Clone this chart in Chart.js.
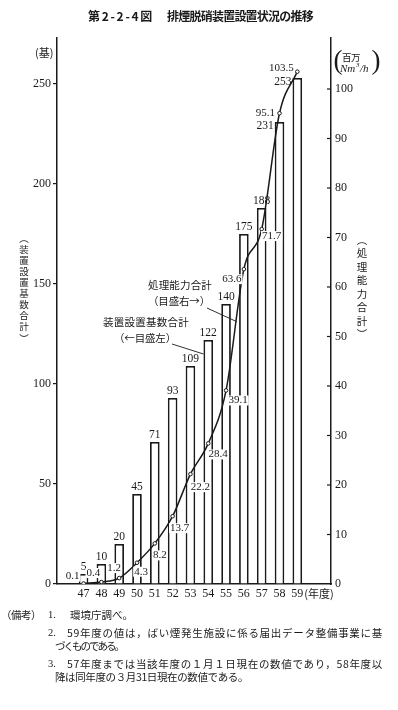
<!DOCTYPE html>
<html>
<head>
<meta charset="utf-8">
<script src="https://cdn.jsdelivr.net/npm/chart.js@4.4.1/dist/chart.umd.min.js"></script>
<style>
  html, body { margin: 0; padding: 0; background: #fff; }
  canvas { display: block; }
</style>
</head>
<body>
<canvas id="chart" width="398" height="710" style="width:398px;height:710px"></canvas>
<script>
// 年度（昭和）
const years = [47, 48, 49, 50, 51, 52, 53, 54, 55, 56, 57, 58, 59];
// 装置設置基数合計（基）
const unitCounts = [5, 10, 20, 45, 71, 93, 109, 122, 140, 175, 188, 231, 253];
// 処理能力合計（百万Nm3/h）
const capacity = [0.1, 0.4, 1.2, 4.3, 8.2, 13.7, 22.2, 28.4, 39.1, 63.6, 71.7, 95.1, 103.5];
const leftTicks = [0, 50, 100, 150, 200, 250];
const rightTicks = [0, 10, 20, 30, 40, 50, 60, 70, 80, 90, 100];

const titleNo = "第2-2-4図";
const titleText = "排煙脱硝装置設置状況の推移";
const noteHead = "（備考）";
const notes = [
  ["1.", "環境庁調べ。"],
  ["2.", "59年度の値は，ばい煙発生施設に係る届出データ整備事業に基"],
  ["", "づくものである。"],
  ["3.", "57年度までは当該年度の１月１日現在の数値であり，58年度以"],
  ["", "降は同年度の３月31日現在の数値である。"],
];

// 数値ラベルの置き方（データではなく見た目の指定）
const barLabelSide = ["top", "top", "top", "top", "top", "top", "top", "top", "top", "top", "top", "left", "left"];
const lineLabelOffset = [
  [-11, -7], [-8, -9], [-5, -10], [4, 9], [5, 12], [7, 12], [10, 13],
  [10, 11], [12, 10], [-12, 10], [10, 7], [-14, 0], [-16, -4],
];

const SERIF = '"Liberation Serif", "DejaVu Serif", serif';
const JP = '"Noto Sans CJK JP", "Noto Sans", sans-serif';
const INK = "#1a1a1a";

// 文字列を指定幅に収めて描く
function drawFit(ctx, text, x, y, width) {
  ctx.letterSpacing = "0px";
  const n = [...text].length;
  if (width) {
    const w = ctx.measureText(text).width;
    ctx.letterSpacing = ((width - w) / n).toFixed(2) + "px";
  }
  ctx.fillText(text, x, y);
  ctx.letterSpacing = "0px";
}

// 縦書き
function drawVertical(ctx, text, x, y0, y1) {
  const chars = [...text];
  const step = (y1 - y0) / (chars.length - 1);
  ctx.textAlign = "center";
  ctx.textBaseline = "middle";
  chars.forEach((c, i) => ctx.fillText(c, x, y0 + i * step));
}

const valueLabels = {
  id: "valueLabels",
  afterDatasetsDraw(chart) {
    const { ctx } = chart;
    ctx.save();
    ctx.fillStyle = INK;

    ctx.font = "11.5px " + SERIF;
    chart.getDatasetMeta(1).data.forEach((bar, i) => {
      const txt = String(unitCounts[i]);
      if (barLabelSide[i] === "left") {
        ctx.textAlign = "right";
        ctx.textBaseline = "middle";
        ctx.fillText(txt, bar.x - bar.width / 2 - 1, bar.y + 4);
      } else {
        ctx.textAlign = "center";
        ctx.textBaseline = "bottom";
        ctx.fillText(txt, bar.x, bar.y - 1);
      }
    });

    ctx.font = "11px " + SERIF;
    ctx.textAlign = "center";
    ctx.textBaseline = "middle";
    chart.getDatasetMeta(0).data.forEach((pt, i) => {
      const [dx, dy] = lineLabelOffset[i];
      const txt = capacity[i].toFixed(1);
      const w = ctx.measureText(txt).width;
      ctx.fillStyle = "#fff";
      ctx.fillRect(pt.x + dx - w / 2 - 1, pt.y + dy - 5, w + 2, 10);
      ctx.fillStyle = INK;
      ctx.fillText(txt, pt.x + dx, pt.y + dy);
    });
    ctx.restore();
  },
};

const decor = {
  id: "decor",
  afterDraw(chart) {
    const { ctx, chartArea } = chart;
    const xs = chart.scales.x, yl = chart.scales.y, yr = chart.scales.y1;
    ctx.save();
    ctx.fillStyle = INK;
    ctx.strokeStyle = INK;

    // 右軸の内向き目盛
    ctx.lineWidth = 1.2;
    rightTicks.forEach((v) => {
      if (v === 0) return;
      const py = yr.getPixelForValue(v);
      ctx.beginPath();
      ctx.moveTo(chartArea.right - 4, py);
      ctx.lineTo(chartArea.right, py);
      ctx.stroke();
    });

    // 表題
    ctx.font = "bold 12px " + JP;
    ctx.textAlign = "left";
    ctx.textBaseline = "middle";
    drawFit(ctx, titleNo, 88, 16, 66);
    drawFit(ctx, titleText, 167, 16, 146);

    // 単位
    ctx.font = "11px " + JP;
    ctx.fillText("(基)", 35, 53);
    ctx.font = "27px " + SERIF;
    ctx.textAlign = "center";
    ctx.fillText("(", 338, 62);
    ctx.fillText(")", 376, 62);
    ctx.font = "9.5px " + JP;
    ctx.textAlign = "left";
    drawFit(ctx, "百万", 342, 57, 18);
    ctx.font = "italic 11px " + SERIF;
    ctx.fillText("Nm", 340, 69);
    ctx.font = "italic 7px " + SERIF;
    ctx.fillText("3", 356, 65);
    ctx.font = "italic 11px " + SERIF;
    ctx.fillText("/h", 360, 69);

    // 縦の軸名
    ctx.font = "9.5px " + JP;
    drawVertical(ctx, "︵装置設置基数合計︶", 24, 238, 338);
    ctx.font = "10.5px " + JP;
    drawVertical(ctx, "︵処理能力合計︶", 362, 240, 334);

    // 年度
    ctx.font = "11px " + JP;
    ctx.textAlign = "left";
    ctx.textBaseline = "middle";
    ctx.fillText("(年度)", xs.getPixelForValue(59) + 7, 594);

    // 系列の説明と引出線
    ctx.font = "10.5px " + JP;
    ctx.textAlign = "left";
    drawFit(ctx, "処理能力合計", 148, 285, 64);
    drawFit(ctx, "（目盛右→）", 148, 301, 62);
    drawFit(ctx, "装置設置基数合計", 103, 322, 86);
    drawFit(ctx, "（←目盛左）", 114, 338, 62);
    const barW = chart.getDatasetMeta(1).data[7].width;
    ctx.lineWidth = 0.9;
    ctx.beginPath();
    ctx.moveTo(207, 308);
    ctx.lineTo(xs.getPixelForValue(55.6), yr.getPixelForValue(53));
    ctx.moveTo(172, 344);
    ctx.lineTo(xs.getPixelForValue(54) - barW / 2, yl.getPixelForValue(115));
    ctx.stroke();

    // 備考
    ctx.font = "10.5px " + JP;
    ctx.textAlign = "left";
    ctx.textBaseline = "middle";
    const rowY = [615, 633, 646, 664, 677];
    drawFit(ctx, noteHead, 1, rowY[0], 40);
    notes.forEach(([num, txt], i) => {
      ctx.font = "10.5px " + SERIF;
      if (num) ctx.fillText(num, 48, rowY[i]);
      ctx.font = "10.5px " + JP;
      if (num) {
        const fit = i === 0 ? null : 316;
        drawFit(ctx, txt, i === 0 ? 70 : 67, rowY[i], fit);
      } else {
        drawFit(ctx, txt, 55, rowY[i], i === 2 ? 68 : 193);
      }
    });

    ctx.restore();
  },
};

const ctx = document.getElementById("chart");

new Chart(ctx, {
  type: "bar",
  data: {
    datasets: [
      {
        type: "line",
        label: "処理能力合計",
        data: years.map((yr, i) => ({ x: yr, y: capacity[i] })),
        yAxisID: "y1",
        borderColor: INK,
        borderWidth: 1.5,
        cubicInterpolationMode: "monotone",
        pointRadius: 1.8,
        pointBackgroundColor: "#fff",
        pointBorderColor: INK,
        pointBorderWidth: 1,
        order: 0,
      },
      {
        type: "bar",
        label: "装置設置基数合計",
        data: years.map((yr, i) => ({ x: yr, y: unitCounts[i] })),
        yAxisID: "y",
        backgroundColor: "#fff",
        borderColor: INK,
        borderWidth: 1.8,
        categoryPercentage: 1,
        barPercentage: 0.54,
        order: 1,
      },
    ],
  },
  options: {
    responsive: false,
    animation: false,
    devicePixelRatio: 1,
    layout: { padding: { top: 38, left: 0, right: 0, bottom: 0 } },
    plugins: {
      legend: { display: false },
      tooltip: { enabled: false },
    },
    scales: {
      x: {
        type: "linear",
        min: 46.1,
        max: 60.3,
        grid: { display: false, drawTicks: false },
        border: { display: true, color: INK, width: 1.5 },
        afterBuildTicks: (s) => { s.ticks = years.map((v) => ({ value: v })); },
        afterFit: (s) => { s.height = 126; },
        ticks: { color: INK, font: { family: SERIF, size: 12 }, padding: 3, maxRotation: 0, autoSkip: false },
      },
      y: {
        type: "linear",
        position: "left",
        min: 0,
        max: 273,
        grid: { drawOnChartArea: false, tickLength: 4, color: INK, lineWidth: 1.2 },
        border: { display: true, color: INK, width: 1.5 },
        afterBuildTicks: (s) => { s.ticks = leftTicks.map((v) => ({ value: v })); },
        afterFit: (s) => { s.width = 57; },
        ticks: { color: INK, font: { family: SERIF, size: 12 }, padding: 2 },
      },
      y1: {
        type: "linear",
        position: "right",
        min: 0,
        max: 110.3,
        grid: { drawOnChartArea: false, drawTicks: false },
        border: { display: true, color: INK, width: 1.5 },
        afterBuildTicks: (s) => { s.ticks = rightTicks.map((v) => ({ value: v })); },
        afterFit: (s) => { s.width = 67; },
        ticks: { color: INK, font: { family: SERIF, size: 12 }, padding: 4 },
      },
    },
  },
  plugins: [valueLabels, decor],
});
</script>
</body>
</html>
